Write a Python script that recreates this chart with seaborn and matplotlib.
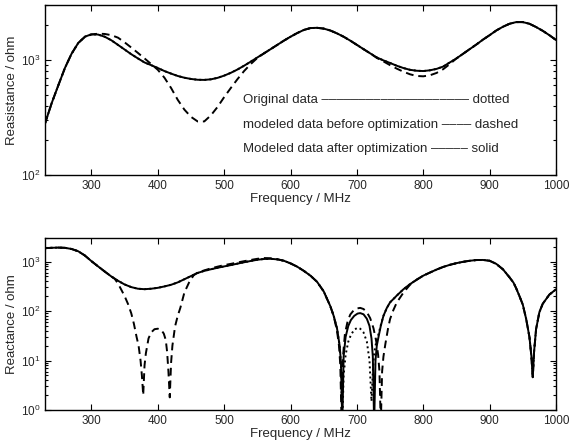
import matplotlib
matplotlib.use("Agg")
import matplotlib.pyplot as plt
import matplotlib.ticker as mticker
import seaborn as sns

# ---- resistance panel (top) ----
freq_r = list(range(230, 1001, 10))
res_after = [280, 420, 600, 850, 1130, 1400, 1590, 1670, 1660, 1590,
             1480, 1350, 1230, 1120, 1030, 950, 900, 850, 800, 760,
             725, 700, 683, 672, 670, 678, 698, 730, 772, 825,
             890, 965, 1050, 1140, 1240, 1350, 1470, 1590, 1710, 1820,
             1890, 1900, 1870, 1800, 1700, 1590, 1470, 1350, 1240, 1140,
             1050, 990, 940, 890, 850, 820, 805, 800, 812, 835,
             875, 950, 1030, 1130, 1240, 1360, 1500, 1640, 1800, 1940,
             2060, 2130, 2130, 2060, 1930, 1790, 1640, 1490]
res_before = [280, 420, 600, 850, 1130, 1400, 1580, 1660, 1690, 1680,
              1640, 1560, 1420, 1280, 1150, 1030, 920, 820, 700, 570,
              450, 370, 320, 292, 292, 330, 390, 475, 570, 680,
              800, 920, 1040, 1140, 1240, 1350, 1470, 1590, 1710, 1820,
              1890, 1900, 1870, 1800, 1700, 1590, 1470, 1350, 1240, 1140,
              1040, 970, 900, 840, 790, 750, 725, 720, 735, 770,
              830, 920, 1030, 1130, 1240, 1360, 1500, 1640, 1800, 1940,
              2060, 2130, 2130, 2060, 1930, 1790, 1640, 1490]
res_orig = res_after

# ---- reactance panel (bottom) ----
freq_x = [230, 240, 250, 260, 270, 280, 290, 300, 310, 320,
          330, 340, 350, 360, 370, 380, 390, 400, 410, 420,
          430, 440, 450, 460, 470, 480, 490, 500, 510, 520,
          530, 540, 550, 560, 570, 580, 590, 600, 610, 620,
          630, 640, 650, 660, 665, 670, 674, 676, 678, 680,
          683, 687, 691, 696, 701, 705, 710, 715, 719, 722,
          724, 726, 728, 730, 733, 736, 740, 745, 750, 760,
          770, 780, 790, 800, 810, 820, 830, 840, 850, 860,
          870, 880, 890, 900, 910, 920, 930, 936, 940, 945,
          950, 955, 960, 963, 965, 967, 970, 975, 980, 990, 1000]
reac_after = [1870, 1900, 1920, 1900, 1800, 1620, 1330, 1020, 800, 630,
              500, 410, 345, 305, 283, 277, 283, 295, 315, 340,
              380, 440, 510, 590, 650, 700, 750, 800, 850, 910,
              970, 1030, 1090, 1130, 1140, 1110, 1040, 920, 790, 650,
              520, 390, 250, 125, 80, 45, 20, 9, 0.5, 12,
              30, 50, 66, 80, 89, 91, 86, 70, 50, 28,
              12, 0.5, 10, 20, 32, 50, 80, 115, 150, 205,
              275, 350, 430, 520, 600, 690, 780, 860, 930, 990,
              1040, 1075, 1080, 1040, 900, 700, 480, 375, 290, 200,
              135, 70, 30, 12, 4.6, 15, 43, 95, 140, 215, 275]
reac_orig = [1870, 1900, 1920, 1900, 1800, 1620, 1330, 1020, 800, 630,
             500, 410, 345, 305, 283, 277, 283, 295, 315, 340,
             380, 440, 510, 590, 650, 700, 750, 800, 850, 910,
             970, 1030, 1090, 1130, 1140, 1110, 1040, 920, 790, 650,
             520, 390, 250, 125, 80, 45, 20, 8, 0.5, 5,
             13, 24, 33, 42, 46, 44, 37, 24, 10, 1.5,
             6, 14, 20, 26, 36, 52, 80, 115, 150, 205,
             275, 350, 430, 520, 600, 690, 780, 860, 930, 990,
             1040, 1075, 1080, 1040, 900, 700, 480, 375, 290, 200,
             135, 70, 30, 12, 4.6, 15, 43, 95, 140, 215, 275]
freq_xb = [230, 240, 250, 260, 270, 280, 290, 300, 310, 320,
           330, 335, 340, 345, 350, 355, 360, 364, 368, 371,
           374, 376, 378, 380, 382, 386, 390, 395, 400, 405,
           409, 412, 414, 416, 418, 420, 422, 426, 430, 434,
           440, 447, 454, 460, 470, 480, 490, 500, 510, 520,
           530, 540, 550, 560, 570, 580, 590, 600, 610, 620,
           630, 640, 650, 660, 665, 670, 673, 675, 677, 679,
           682, 686, 690, 695, 700, 705, 710, 715, 720, 725,
           729, 732, 734, 736, 738, 740, 743, 747, 750, 755,
           760, 770, 780, 790, 800, 810, 820, 830, 840, 850,
           860, 870, 880, 890, 900, 910, 920, 930, 936, 940,
           945, 950, 955, 960, 963, 965, 967, 970, 975, 980, 990, 1000]
reac_before = [1870, 1900, 1920, 1900, 1800, 1620, 1330, 1020, 800, 630,
               500, 450, 360, 270, 200, 140, 90, 55, 30, 20,
               10, 5, 2, 8, 14, 28, 37, 43, 44, 42,
               35, 26, 15, 6, 1.8, 9, 20, 49, 80, 117,
               236, 377, 530, 600, 665, 730, 790, 850, 900, 960,
               1020, 1080, 1140, 1180, 1170, 1120, 1040, 920, 790, 650,
               520, 390, 250, 125, 80, 40, 20, 8, 0.5, 12,
               35, 62, 85, 103, 113, 116, 110, 95, 72, 45,
               25, 13, 6, 0.5, 6, 12, 22, 45, 69, 105,
               148, 235, 340, 430, 520, 600, 690, 780, 860, 930,
               990, 1040, 1075, 1080, 1040, 900, 700, 480, 375, 290,
               200, 135, 70, 30, 12, 4.6, 15, 43, 95, 140, 215, 275]

legend_lines = ["Original data " + "\u2013" * 20 + " dotted",
                "modeled data before optimization " + "\u2013" * 4 + " dashed",
                "Modeled data after optimization " + "\u2013" * 5 + " solid"]

sns.set_style("ticks")
plt.rcParams['font.family'] = ['Liberation Sans', 'DejaVu Sans']
plt.rcParams['mathtext.fontset'] = 'custom'
plt.rcParams['mathtext.rm'] = 'Liberation Sans'

DASH = (0, (4, 2.5))
DOT = (0, (1, 1.6))
LW = 1.4

fig = plt.figure(figsize=(5.74, 4.41), dpi=100)
ax1 = fig.add_axes([0.0784, 0.6032, 0.8902, 0.3855])
ax2 = fig.add_axes([0.0784, 0.0703, 0.8902, 0.3900])


def style_axis(ax, ylim, ylabel):
    ax.set_yscale('log')
    ax.set_xlim(230, 1000)
    ax.set_ylim(*ylim)
    ax.set_xticks(range(300, 1001, 100))
    ax.yaxis.set_major_locator(mticker.LogLocator(base=10))
    ax.yaxis.set_major_formatter(mticker.LogFormatterMathtext())
    ax.yaxis.set_minor_locator(mticker.LogLocator(base=10, subs=range(2, 10)))
    ax.yaxis.set_minor_formatter(mticker.NullFormatter())
    ax.tick_params(which='both', direction='in', top=True, right=True,
                   labelsize=8.5, color='black', width=0.8)
    ax.tick_params(which='major', length=4, pad=3.5)
    ax.tick_params(which='minor', length=2.5)
    ax.set_xlabel('Frequency / MHz', fontsize=9.5, labelpad=0.5)
    ax.set_ylabel(ylabel, fontsize=9.5, labelpad=2)
    for s in ax.spines.values():
        s.set_linewidth(1.0)
        s.set_color('black')


sns.lineplot(x=freq_r, y=res_orig, ax=ax1, color='black', linestyle=DOT, lw=LW)
sns.lineplot(x=freq_r, y=res_before, ax=ax1, color='black', linestyle=DASH, lw=LW)
sns.lineplot(x=freq_r, y=res_after, ax=ax1, color='black', lw=LW)
style_axis(ax1, (100, 3000), 'Reasistance / ohm')
for txt, ypos in zip(legend_lines, [0.441, 0.294, 0.15]):
    ax1.text(0.388, ypos, txt, transform=ax1.transAxes,
             va='center', ha='left', fontsize=9.5)

sns.lineplot(x=freq_x, y=reac_orig, ax=ax2, color='black', linestyle=DOT, lw=LW)
sns.lineplot(x=freq_xb, y=reac_before, ax=ax2, color='black', linestyle=DASH, lw=LW)
sns.lineplot(x=freq_x, y=reac_after, ax=ax2, color='black', lw=LW)
style_axis(ax2, (1, 3000), 'Reactance / ohm')

fig.savefig('out.png', dpi=100)
